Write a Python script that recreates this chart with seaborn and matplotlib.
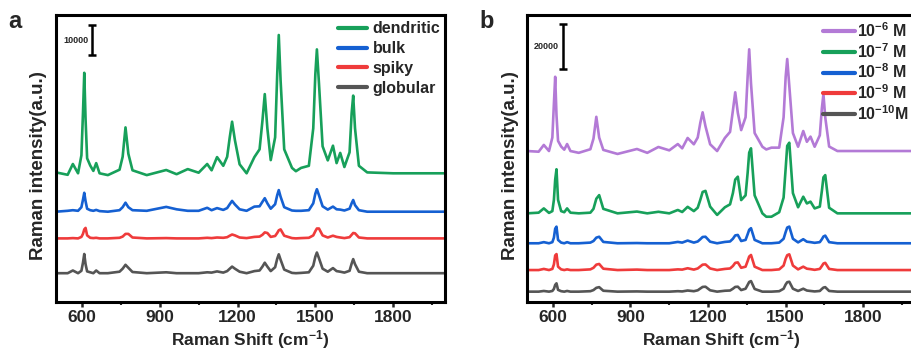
import numpy as np
import pandas as pd
import matplotlib
matplotlib.use("Agg")
import matplotlib.pyplot as plt
import seaborn as sns
from matplotlib.ticker import MultipleLocator

# ---------------- data ----------------
# shared Raman-shift sample positions (cm-1) for the key points of each trace
shift = [500, 545, 565, 585, 598, 604, 609, 614, 620, 632, 644, 655, 668, 700,
         745, 757, 768, 779, 795, 850, 925, 965, 1008, 1050, 1083, 1100, 1121,
         1145, 1160, 1170, 1179, 1190, 1208, 1235, 1265, 1285, 1296, 1305, 1315,
         1328, 1345, 1353, 1359, 1366, 1380, 1410, 1425, 1445, 1475, 1492, 1500,
         1506, 1514, 1528, 1548, 1568, 1582, 1596, 1612, 1632, 1640, 1646, 1653,
         1668, 1700, 1800, 1900, 2000]

# panel a: intensity above each trace's baseline (counts)
dendritic = [300, -500, 3100, 0, 6000, 20000, 33500, 18000, 5000, 2600, 800, 3400, 0, -600,
             1200, 5500, 15300, 6500, 1000, -600, 1100, -300, 1400, 200, 3100, 1000, 5400,
             2500, 5500, 12000, 17200, 11000, 3000, 0, 5400, 8000, 17500, 26400, 15000,
             4400, 12000, 33000, 46100, 31000, 8000, 1800, 700, 1800, 2500, 15000, 33000,
             41300, 30000, 9000, 4300, 9200, 3400, 6800, 2100, 7000, 20000, 25900, 15000,
             2500, 300, 0, 0, 0]
bulk = [0, 300, 500, 300, 1500, 4000, 6300, 3500, 1000, 500, 300, 600, 200, 0,
        500, 1500, 3000, 1500, 500, 300, 1600, 800, 300, 300, 1300, 500, 1200,
        600, 1200, 2500, 3600, 2400, 800, 300, 1700, 1800, 3300, 4500, 2800,
        1000, 2500, 5500, 7200, 5000, 1500, 400, 300, 300, 500, 2800, 6000,
        7500, 5500, 1800, 700, 1700, 800, 700, 400, 1000, 2800, 3900, 2200,
        500, 0, 0, 0, 0]
spiky = [0, 0, 100, 0, 500, 1500, 3000, 3500, 1000, 200, 100, 200, 0, 0,
         200, 600, 1500, 1500, 300, 0, 100, 0, 0, 0, 200, 100, 300,
         200, 400, 900, 1300, 1000, 300, 100, 500, 600, 1200, 2000, 1800,
         500, 800, 1800, 2700, 3000, 900, 100, 0, 100, 200, 1000, 2400,
         3300, 3300, 1000, 300, 900, 500, 300, 100, 400, 1200, 1800, 1700,
         300, 0, 0, 0, 0]
globular = [0, 0, 900, 0, 800, 3500, 6400, 3000, 600, 300, 0, 900, 0, 0,
            500, 1500, 2800, 1800, 400, 0, 300, 0, 0, 0, 300, 200, 600,
            200, 700, 1500, 2200, 1500, 500, 0, 700, 900, 2200, 3500, 2200,
            700, 2000, 4800, 6300, 4500, 1200, 100, 0, 100, 300, 2500, 5500,
            6900, 5000, 1500, 500, 1700, 700, 500, 200, 800, 3200, 4700, 3000,
            500, 0, 0, 0, 0]
labels_a = ["dendritic", "bulk", "spiky", "globular"]
offsets_a = [42900, 30100, 21200, 9600]

# panel b
c1e6 = [0, -300, 2700, 0, 6000, 21000, 33000, 16000, 4500, 2000, 600, 3100, 0, -800,
        800, 5500, 15200, 6000, 500, -1300, 900, -800, 1800, 300, 3100, 1200, 5800,
        3000, 6000, 12500, 17200, 11000, 3000, 0, 5800, 8500, 18000, 26100, 17000,
        9300, 15000, 33000, 45200, 30000, 8000, 1900, 700, 1500, 1500, 15000, 33000,
        40900, 29000, 8000, 1900, 8900, 4100, 6400, 1900, 7000, 19000, 25300, 15000,
        2000, 0, 0, 0, 0]
c1e7 = [0, 300, 2200, 200, 1000, 6000, 15000, 19600, 6000, 1000, 500, 2200, 300, 0,
        300, 2000, 6500, 8100, 2000, 0, 800, 0, 700, 0, 1500, 600, 2900,
        1000, 2500, 6000, 9500, 10000, 3000, -700, 2700, 4000, 9000, 15000, 16300,
        5900, 8000, 18000, 27000, 28900, 8000, 0, -1500, -1500, 500, 7000, 20000,
        30000, 31400, 9000, 2700, 7400, 4400, 5200, 2200, 3000, 10000, 16000, 17000,
        2500, 0, 0, 0, 0]
c1e8 = [0, 0, 500, 0, 500, 2500, 6500, 7400, 1500, 300, 0, 500, 0, 0,
        300, 1000, 2500, 2900, 600, 0, 100, 0, 0, 0, 600, 300, 1200,
        300, 800, 1800, 2800, 2900, 700, 0, 600, 800, 2000, 3500, 3700,
        1000, 1500, 4000, 6000, 6700, 1500, 0, 0, 0, 300, 2000, 5000,
        7000, 7400, 2000, 400, 1800, 700, 500, 200, 500, 1800, 3000, 3400,
        500, 0, 0, 0, 0]
c1e9 = [0, 0, 500, 0, 500, 2500, 6500, 7100, 1500, 300, 0, 300, 0, 0,
        300, 1000, 2400, 2700, 600, 0, 200, 0, 0, 0, 300, 200, 800,
        200, 700, 1600, 2400, 2500, 700, 0, 500, 700, 1800, 3200, 3400,
        1000, 1500, 4000, 6000, 6700, 1500, 0, 0, 0, 300, 2000, 5000,
        6600, 7000, 2000, 300, 1500, 600, 400, 100, 500, 1800, 2900, 3200,
        500, 0, 0, 0, 0]
c1e10 = [0, 0, 300, 0, 300, 1200, 3000, 3700, 800, 200, 0, 300, 0, 0,
         200, 700, 1700, 2000, 400, 0, 100, 0, 0, 0, 200, 100, 500,
         200, 600, 1400, 2100, 2200, 600, 0, 400, 500, 1300, 2100, 2200,
         700, 1300, 3000, 4300, 4700, 1200, 0, 0, 0, 200, 1300, 3200,
         4200, 4400, 1300, 300, 1300, 500, 300, 100, 300, 1200, 1800, 2000,
         300, 0, 0, 0, 0]
labels_b = ["10$^{-6}$ M", "10$^{-7}$ M", "10$^{-8}$ M", "10$^{-9}$ M", "10$^{-10}$M"]
offsets_b = [67100, 39400, 26100, 14200, 4600]

xticks = [600, 900, 1200, 1500, 1800]

# ---------------- styling ----------------
sns.set_theme(style="ticks")
plt.rcParams["font.family"] = ["Liberation Sans", "DejaVu Sans"]
plt.rcParams["font.weight"] = "bold"
plt.rcParams["mathtext.fontset"] = "custom"
plt.rcParams["mathtext.rm"] = "Liberation Sans:bold"
plt.rcParams["mathtext.it"] = "Liberation Sans:bold"
plt.rcParams["mathtext.bf"] = "Liberation Sans:bold"
plt.rcParams["mathtext.default"] = "bf"

GREEN = "#17a05a"
BLUE = "#1560d2"
RED = "#ef3b3b"
GRAY = "#555555"
PURPLE = "#b37ad6"

colors_a = [GREEN, BLUE, RED, GRAY]
colors_b = [PURPLE, GREEN, BLUE, RED, GRAY]

W, H = 911, 352
fig = plt.figure(figsize=(W / 100, H / 100), dpi=100)
ax_a = fig.add_axes([56 / W, 1 - 302 / H, (445 - 56) / W, (302 - 15) / H])
ax_b = fig.add_axes([527 / W, 1 - 302 / H, (915 - 527) / W, (302 - 15) / H])


def long_frame(series, labels, offsets):
    rows = []
    for s, lab, off in zip(series, labels, offsets):
        rows.append(pd.DataFrame({"shift": shift,
                                  "intensity": np.asarray(s, float) + off,
                                  "sample": lab}))
    return pd.concat(rows, ignore_index=True)


def draw(ax, df, labels, colors, ylim, bar_x, bar_lo, bar_hi, bar_txt, txt_x,
         leg_anchor, leg_space, handle_len, text_pad, ylab_x):
    sns.lineplot(data=df, x="shift", y="intensity", hue="sample",
                 hue_order=labels, palette=colors, linewidth=1.9, ax=ax,
                 sort=False, estimator=None)
    ax.set_xlim(500, 2000)
    ax.set_ylim(*ylim)
    ax.set_xticks(xticks)
    ax.xaxis.set_minor_locator(MultipleLocator(150))
    ax.set_yticks([])
    ax.tick_params(axis="x", which="major", direction="out", length=3.5,
                   width=1.8, labelsize=12.5, pad=2.5)
    ax.tick_params(axis="x", which="minor", direction="out", length=2.2, width=1.5)
    for lab in ax.get_xticklabels():
        lab.set_fontweight("bold")
    for sp in ax.spines.values():
        sp.set_linewidth(2.2)
        sp.set_color("black")
    ax.set_xlabel("Raman Shift (cm$^{-1}$)", fontsize=12.5, fontweight="bold")
    ax.xaxis.set_label_coords(0.5, -0.092)
    ax.set_ylabel("Raman intensity(a.u.)", fontsize=13.5, fontweight="bold")
    ax.yaxis.set_label_coords(ylab_x, 0.475)
    # scale bar
    ax.errorbar([bar_x], [(bar_lo + bar_hi) / 2], yerr=[(bar_hi - bar_lo) / 2],
                color="black", capsize=3, elinewidth=1.8, capthick=1.8, fmt="none")
    ax.text(txt_x, (bar_lo + bar_hi) / 2, bar_txt, fontsize=6.5, fontweight="bold",
            ha="right", va="center")
    leg = ax.legend(loc="upper right", bbox_to_anchor=leg_anchor, frameon=False,
                    handlelength=handle_len, handletextpad=text_pad,
                    labelspacing=leg_space, borderaxespad=0.0,
                    prop={"weight": "bold", "size": 11.5})
    for h in leg.get_lines():
        h.set_linewidth(3)


df_a = long_frame([dendritic, bulk, spiky, globular], labels_a, offsets_a)
draw(ax_a, df_a, labels_a, colors_a, (0, 95667), 638, 82333, 92333, "10000", 624,
     (1.005, 1.0), 0.3, 1.85, 0.35, -0.022)

df_b = long_frame([c1e6, c1e7, c1e8, c1e9, c1e10], labels_b, offsets_b)
draw(ax_b, df_b, labels_b, colors_b, (0, 127556), 641, 103550, 123550, "20000", 624,
     (1.0, 1.0), 0.12, 2.0, 0.15, -0.02)

fig.text(15 / W, 1 - 22 / H, "a", fontsize=17, fontweight="bold", ha="center", va="center")
fig.text(487 / W, 1 - 22 / H, "b", fontsize=17, fontweight="bold", ha="center", va="center")

fig.savefig("out.png", dpi=100)
